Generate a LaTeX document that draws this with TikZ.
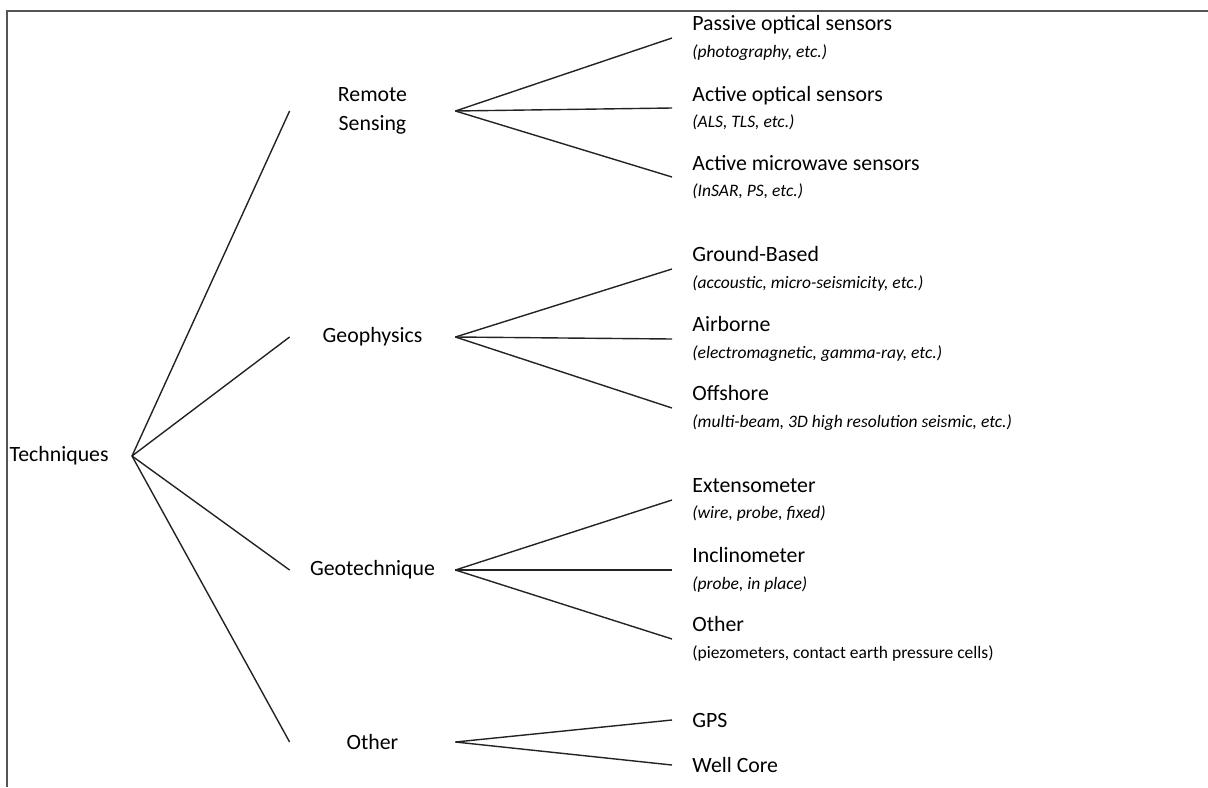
\documentclass[tikz,border=0pt]{standalone}
\usepackage{fontspec}
\setmainfont{Carlito}
\usepackage{tikz}
\usetikzlibrary{positioning}
\definecolor{framegray}{RGB}{85,85,85}
\definecolor{linegray}{RGB}{35,35,35}

\begin{document}
\begin{tikzpicture}[x=0.5pt, y=-0.5pt,
  font=\fontsize{10.9}{14.8}\selectfont,
  branch/.style={draw=linegray, line width=0.7pt},
  cat/.style={minimum width=82.5pt, inner xsep=0pt, inner ysep=1pt, align=center},
  leaf/.style={anchor=west, inner xsep=10pt, inner ysep=1pt, align=left,
    font=\fontsize{10.9}{13.2}\selectfont}]
  \newcommand{\subtxt}{\fontsize{8.75}{13.2}\selectfont\itshape}
  \useasboundingbox (0,0) rectangle (1208,787);
  % Frame (left and top only)
  \draw[framegray, line width=0.75pt] (7,787) -- (7,11) -- (1208,11);
  % Root
  \node[anchor=east, inner xsep=11.5pt] (tech) at (132,456) {Techniques};
  % Categories
  \node[cat] (rs)  at (372.5,111) {Remote\\Sensing};
  \node[cat] (geo) at (372.5,337) {Geophysics};
  \node[cat] (gtq) at (372.5,570) {Geotechnique};
  \node[cat] (oth) at (372.5,742) {Other};
  % Remote sensing leaves
  \node[leaf] (pas) at (672,38)  {Passive optical sensors\\{\subtxt (photography, etc.)}};
  \node[leaf] (aop) at (672,108) {Active optical sensors\\{\subtxt (ALS, TLS, etc.)}};
  \node[leaf] (amw) at (672,177) {Active microwave sensors\\{\subtxt (InSAR, PS, etc.)}};
  % Geophysics leaves
  \node[leaf] (gnd) at (672,269) {Ground-Based\\{\subtxt (accoustic, micro-seismicity, etc.)}};
  \node[leaf] (air) at (672,339) {Airborne\\{\subtxt (electromagnetic, gamma-ray, etc.)}};
  \node[leaf] (off) at (672,408) {Offshore\\{\subtxt (multi-beam, 3D high resolution seismic, etc.)}};
  % Geotechnique leaves
  \node[leaf] (ext) at (672,500) {Extensometer\\{\subtxt (wire, probe, fixed)}};
  \node[leaf] (inc) at (672,570) {Inclinometer\\{\subtxt (probe, in place)}};
  \node[leaf] (pzm) at (672,639) {Other\\{\fontsize{8.75}{13.2}\selectfont (piezometers, contact earth pressure cells)}};
  % Other leaves
  \node[leaf] (gps) at (672,720) {GPS};
  \node[leaf] (wel) at (672,765) {Well Core};
  % Connectors
  \foreach \c in {rs,geo,gtq,oth}
    \draw[branch] (tech.east) -- (\c.west);
  \foreach \l in {pas,aop,amw}
    \draw[branch] (rs.east) -- (\l.west);
  \foreach \l in {gnd,air,off}
    \draw[branch] (geo.east) -- (\l.west);
  \foreach \l in {ext,inc,pzm}
    \draw[branch] (gtq.east) -- (\l.west);
  \foreach \l in {gps,wel}
    \draw[branch] (oth.east) -- (\l.west);
\end{tikzpicture}
\end{document}
